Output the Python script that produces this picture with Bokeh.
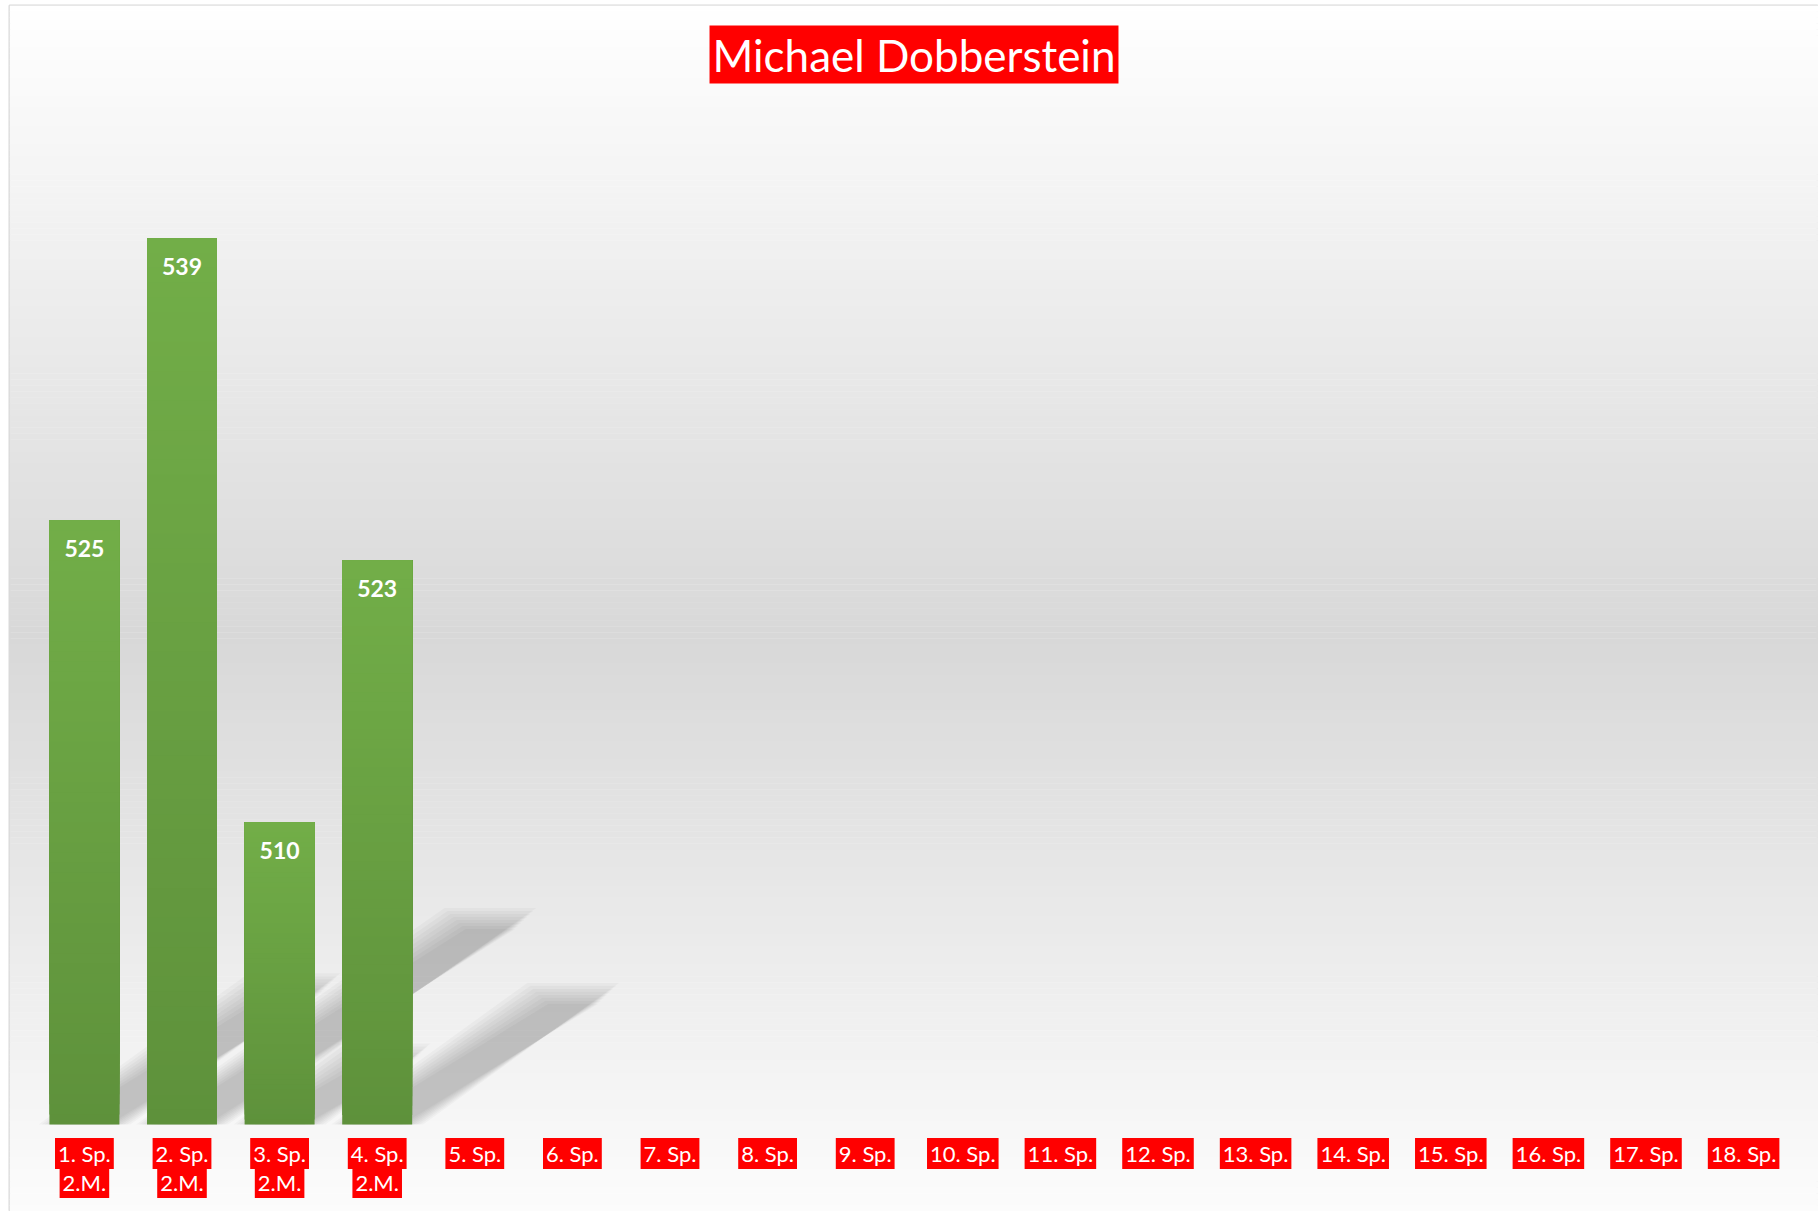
from bokeh.plotting import figure
from bokeh.models import FactorRange, Range1d, BoxAnnotation
from bokeh.core.properties import value
from bokeh.embed import file_html
from bokeh.resources import INLINE

# ---------------- data ----------------
categories = [f"{i}. Sp." for i in range(1, 19)]
second_line = ["2.M.", "2.M.", "2.M.", "2.M."] + [""] * 14
scores = [525, 539, 510, 523]
score_cats = categories[:len(scores)]
axis_min = 495
title_text = "Michael Dobberstein"

# ---------------- layout constants ----------------
W, H = 1818, 1211
BORDER_L, BORDER_T = 9, 5
FRAME_W, FRAME_H = W - BORDER_L, H - BORDER_T
Y0, Y1 = 490.68, 550.56          # y range (frame spans the figure height below the top line)
PX_PER_UNIT = FRAME_H / (Y1 - Y0)
CAT_PX = 97.6                     # pixels per category
PAD_CAT = (FRAME_W - 18 * CAT_PX) / 2 / CAT_PX
BAR_W = 0.717
FONT = "Lato"

p = figure(width=W, height=H,
           x_range=FactorRange(*categories, range_padding=2 * PAD_CAT / 18,
                               range_padding_units="percent"),
           y_range=Range1d(Y0, Y1),
           x_axis_location=None, y_axis_location=None,
           toolbar_location=None, output_backend="svg",
           min_border=0, min_border_left=BORDER_L, min_border_top=BORDER_T,
           border_fill_color="white", background_fill_color="white",
           outline_line_color="#d9d9d9", outline_line_width=2)
p.grid.visible = False

# ---------------- background gradient ----------------
def lerp(a, b, t):
    return a + (b - a) * t

n_strips = 200
dark_y_px = 631.0  # from top of frame
for k in range(n_strips):
    py = (k + 0.5) * FRAME_H / n_strips
    if py < dark_y_px:
        g = lerp(255, 216, py / dark_y_px)
    else:
        g = lerp(216, 252, (py - dark_y_px) / (FRAME_H - dark_y_px))
    g = int(round(g))
    top = Y1 - k * (Y1 - Y0) / n_strips
    bot = Y1 - (k + 1) * (Y1 - Y0) / n_strips
    p.add_layout(BoxAnnotation(top=top + 0.01, bottom=bot - 0.01,
                               fill_color=(g, g, g), fill_alpha=1.0,
                               line_alpha=0, level="underlay"))

# ---------------- perspective shadows (soft, layered) ----------------
SH_RATIO = 0.232      # shadow height / bar height
SH_SLANT = 1.5        # dx / dy in pixels
sh_xs, sh_ys = [], []
for grow in (-10, -7, -4, -1, 2, 5, 8, 11):
    gx = grow / CAT_PX
    gy = grow / PX_PER_UNIT
    for c, v in zip(score_cats, scores):
        dy_units = SH_RATIO * (v - axis_min)
        dx_cat = SH_SLANT * dy_units * PX_PER_UNIT / CAT_PX
        x_l = -BAR_W / 2 - gx
        x_r = BAR_W / 2 + gx
        sh_xs.append([(c, x_l), (c, x_r), (c, x_r + dx_cat), (c, x_l + dx_cat)])
        sh_ys.append([axis_min, axis_min, axis_min + dy_units + gy, axis_min + dy_units + gy])
p.patches(xs=sh_xs, ys=sh_ys, fill_color="black", fill_alpha=0.026, line_color=None)

# ---------------- bars with vertical gradient ----------------
top_rgb = (114, 174, 72)
bot_rgb = (94, 145, 59)
N = 60
seg_x, seg_b, seg_t, seg_c = [], [], [], []
for c, v in zip(score_cats, scores):
    for k in range(N):
        t0 = k / N
        seg_x.append(c)
        seg_b.append(axis_min + (v - axis_min) * t0)
        seg_t.append(v)   # each band reaches to the top: no seams
        tt = (k + 0.5) / N
        seg_c.append("#%02x%02x%02x" % tuple(int(round(lerp(b, a, tt)))
                                              for a, b in zip(top_rgb, bot_rgb)))
p.vbar(x=seg_x, bottom=seg_b, top=seg_t, width=BAR_W, fill_color=seg_c, line_color=None)

# ---------------- value labels ----------------
p.text(x=score_cats, y=scores, text=[str(s) for s in scores],
       text_color="white", text_font=value(FONT), text_font_style="bold",
       text_font_size="23px", text_align="center", text_baseline="alphabetic",
       y_offset=28)

# ---------------- category labels (red boxes) ----------------
p.text(x=categories, y=[axis_min] * len(categories), text=categories,
       text_color="white", text_font=value(FONT), text_font_size="22px",
       text_align="center", text_baseline="middle", y_offset=29,
       background_fill_color="red", padding=(3, 2))
l2_cats = [c for c, s in zip(categories, second_line) if s]
l2_text = [s for s in second_line if s]
p.text(x=l2_cats, y=[axis_min] * len(l2_cats), text=l2_text,
       text_color="white", text_font=value(FONT), text_font_size="22px",
       text_align="center", text_baseline="middle", y_offset=58,
       background_fill_color="red", padding=(3, 2))

# ---------------- title ----------------
p.text(x=[(categories[8], 0.5)], y=[Y1], text=[title_text],
       text_color="white", text_font=value(FONT), text_font_size="44px",
       text_align="center", text_baseline="middle", y_offset=49,
       background_fill_color="red", padding=3)

open("out.html", "w").write(file_html(p, INLINE))
